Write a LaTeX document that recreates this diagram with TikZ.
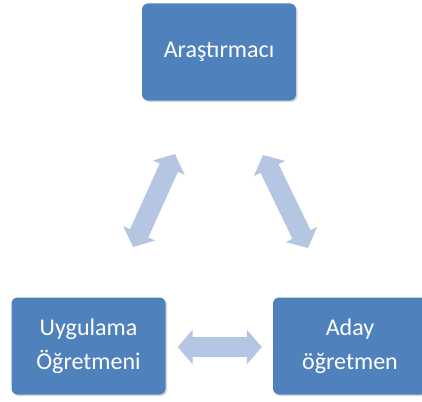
\documentclass[tikz,border=0pt]{standalone}
\usepackage{fontspec}
\setmainfont{Carlito}
\usetikzlibrary{arrows.meta,shadows}
\definecolor{boxblue}{HTML}{4F81BD}
\definecolor{arrowblue}{HTML}{B4C6E2}
\tikzset{
  rolebox/.style={rounded corners=6pt, fill=boxblue, text=white, minimum width=154pt, minimum height=97pt,
    align=center, inner sep=0pt, font=\fontsize{24}{34}\selectfont,
    drop shadow={shadow xshift=1.5pt, shadow yshift=-1.5pt, opacity=0.25, fill=black!60}},
  bigarrow/.style={draw=arrowblue, line width=20pt,
    {Triangle[length=15pt,width=34pt,fill=arrowblue]}-{Triangle[length=15pt,width=34pt,fill=arrowblue]}}
}
\begin{document}
\begin{tikzpicture}[x=1pt,y=-1pt]
\fill[white] (0,0) rectangle (422,401);
\useasboundingbox (0,0) rectangle (422,401);
\clip (0,0) rectangle (422,401);
\node[rolebox] (ar) at (219,52) {Araştırmacı};
\node[rolebox] (ug) at (88.5,346) {Uygulama\\Öğretmeni};
\node[rolebox] (ad) at (350,346) {Aday\\öğretmen};
\coordinate (l1) at (133,247);
\coordinate (l2) at (175,154);
\coordinate (r1) at (263,155);
\coordinate (r2) at (308,248);
\draw[bigarrow] (l1) -- (l2);
\draw[bigarrow] (r1) -- (r2);
\draw[bigarrow] ([xshift=12pt,yshift=-1pt]ug.east) -- ([xshift=-11pt,yshift=-1pt]ad.west);
\end{tikzpicture}
\end{document}
